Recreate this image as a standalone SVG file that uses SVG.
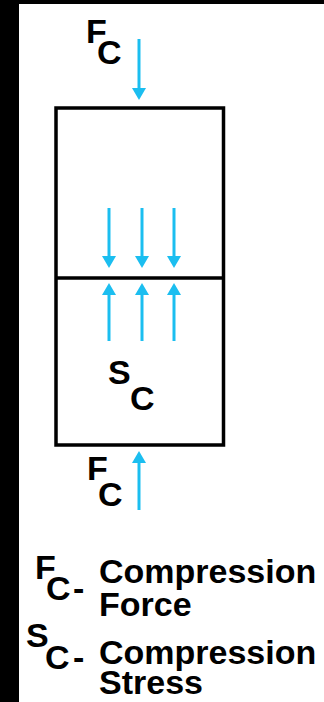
<svg xmlns="http://www.w3.org/2000/svg" width="324" height="702" viewBox="0 0 324 702">
  <style>
    .lbl { font-family: "Liberation Sans", Arial, sans-serif; font-weight: bold; font-size: 34px; fill: #000; }
    .arr { stroke: #1BBEF0; stroke-width: 3; fill: none; marker-end: url(#head); }
    .box { fill: #fff; stroke: #000; stroke-width: 3.5; }
  </style>
  <defs>
    <marker id="head" viewBox="0 0 12 14" markerWidth="12" markerHeight="14" refX="8" refY="7" orient="auto" markerUnits="userSpaceOnUse">
      <path d="M0,0 L12,7 L0,14 Z" fill="#1BBEF0"/>
    </marker>
  </defs>
  <rect x="0" y="0" width="324" height="702" fill="#fff"/>
  <g id="frame">
    <rect x="0" y="0" width="19" height="702" fill="#000"/>
    <rect x="0" y="0" width="324" height="4" fill="#000"/>
  </g>
  <g id="block">
    <rect class="box" x="56" y="108" width="167.5" height="337"/>
    <line x1="56" y1="278" x2="223.5" y2="278" stroke="#000" stroke-width="3.5"/>
  </g>
  <g id="connectors">
    <line class="arr" x1="139" y1="39" x2="139" y2="96"/>
    <line class="arr" x1="109" y1="208" x2="109" y2="264"/>
    <line class="arr" x1="142" y1="208" x2="142" y2="264"/>
    <line class="arr" x1="174" y1="208" x2="174" y2="264"/>
    <line class="arr" x1="109" y1="341" x2="109" y2="287"/>
    <line class="arr" x1="142" y1="341" x2="142" y2="287"/>
    <line class="arr" x1="174" y1="341" x2="174" y2="287"/>
    <line class="arr" x1="139" y1="510" x2="139" y2="455"/>
  </g>
  <g id="label-fc-top">
    <text class="lbl" x="86" y="43">F</text>
    <text class="lbl" x="97" y="64">C</text>
  </g>
  <g id="label-sc">
    <text class="lbl" x="108" y="384">S</text>
    <text class="lbl" x="130" y="410">C</text>
  </g>
  <g id="label-fc-bottom">
    <text class="lbl" x="87" y="480">F</text>
    <text class="lbl" x="98" y="506">C</text>
  </g>
  <g id="legend">
    <text class="lbl" x="35" y="579">F</text>
    <text class="lbl" x="46" y="600">C<tspan x="73">-</tspan></text>
    <text class="lbl" x="99" y="583">Compression</text>
    <text class="lbl" x="99" y="616">Force</text>
    <text class="lbl" x="26" y="647">S</text>
    <text class="lbl" x="45" y="669">C<tspan x="73">-</tspan></text>
    <text class="lbl" x="99" y="664">Compression</text>
    <text class="lbl" x="99" y="694">Stress</text>
  </g>
</svg>
